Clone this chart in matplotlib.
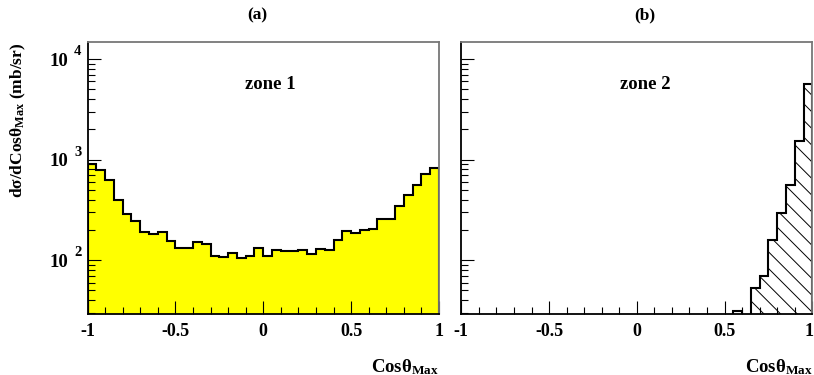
import numpy as np
import matplotlib
matplotlib.use("Agg")
import matplotlib.pyplot as plt
import matplotlib.transforms as mtransforms
from matplotlib.ticker import MultipleLocator, LogLocator, NullFormatter, FixedLocator

plt.rcParams['font.family'] = ['Liberation Serif', 'DejaVu Serif']
plt.rcParams['font.weight'] = 'bold'
plt.rcParams['mathtext.fontset'] = 'custom'
plt.rcParams['mathtext.rm'] = 'Liberation Serif:bold'
plt.rcParams['mathtext.bf'] = 'Liberation Serif:bold'
plt.rcParams['mathtext.it'] = 'Liberation Serif:bold:italic'
plt.rcParams['axes.unicode_minus'] = False
plt.rcParams['hatch.linewidth'] = 0.7

# 40 bins in cos(theta_max) from -1 to 1
bin_edges = np.linspace(-1.0, 1.0, 41)

# zone 1 cross section (mb/sr)
zone1 = [897, 783, 633, 401, 286, 244, 190, 182, 191, 156,
         132, 132, 151, 144, 110, 108, 119, 105, 110, 131,
         110, 126, 123, 123, 126, 115, 129, 127, 158, 194,
         187, 199, 203, 259, 259, 343, 442, 556, 714, 826]

# zone 2 cross section (mb/sr)
zone2 = [0] * 31 + [31, 0, 53.5, 69, 158, 295, 560, 1530, 5600]

x_ticks = [-1, -0.5, 0, 0.5, 1]
x_tick_labels = ['-1', '-0.5', '0', '0.5', '1']
y_decades = [2, 3, 4]
y_range = (29.5, 14800)
panel_titles = ['(a)', '(b)']
zone_labels = ['zone 1', 'zone 2']

W, H = 814, 375
fig = plt.figure(figsize=(W / 100, H / 100), dpi=100)

ax_l = fig.add_axes([87.5 / W, 1 - 313.5 / H, 351.5 / W, 271.5 / H])
ax_r = fig.add_axes([461.3 / W, 1 - 313.5 / H, 351.0 / W, 271.5 / H])

# filled yellow histogram with black outline
ax_l.stairs(zone1, bin_edges, baseline=1, fill=True, color='#ffff00', lw=0)
ax_l.stairs(zone1, bin_edges, baseline=1, fill=False, color='black', lw=1.5)

# hatched histogram
ax_r.stairs(zone2, bin_edges, baseline=1, fill=True, facecolor='none',
            edgecolor='black', hatch='\\\\', lw=0)
ax_r.stairs(zone2, bin_edges, baseline=1, fill=False, color='black', lw=1.5)

xlabel_text = 'Cosθ$_{\\mathbf{Max}}$'

for i, ax in enumerate([ax_l, ax_r]):
    ax.set_yscale('log')
    ax.set_xlim(-1, 1)
    ax.set_ylim(*y_range)
    ax.set_xticks(x_ticks)
    ax.set_xticklabels(x_tick_labels, fontsize=13, fontweight='bold')
    ax.xaxis.set_minor_locator(MultipleLocator(0.1))
    ax.yaxis.set_major_locator(FixedLocator([10.0 ** d for d in y_decades]))
    ax.yaxis.set_minor_locator(LogLocator(base=10, subs=np.arange(2, 10)))
    ax.yaxis.set_major_formatter(NullFormatter())
    ax.yaxis.set_minor_formatter(NullFormatter())
    ax.tick_params(which='major', direction='in', length=9.4, width=0.8,
                   top=False, right=False, pad=6.5, colors='black')
    ax.tick_params(which='minor', direction='in', length=5, width=0.8,
                   top=False, right=False)
    ax.spines['top'].set_color('#777777')
    ax.spines['right'].set_color('#777777')
    ax.spines['left'].set_color('black')
    ax.spines['bottom'].set_color('black')
    for s in ax.spines.values():
        s.set_linewidth(1.3)
    ax.set_zorder(2)
    # x axis title at right end
    ax.annotate(xlabel_text, xy=(1, 0), xycoords='axes fraction',
                xytext=(0, -42), textcoords='offset points',
                ha='right', va='baseline', fontsize=13.5, fontweight='bold')

# keep the last tick label of the right panel inside the canvas
last = ax_r.get_xticklabels()[-1]
last.set_transform(last.get_transform() +
                   mtransforms.ScaledTranslation(-3 / 100, 0, fig.dpi_scale_trans))

# decade labels on the left panel
for d in y_decades:
    ax_l.annotate('10', xy=(0, 10.0 ** d), xycoords=('axes fraction', 'data'),
                  xytext=(-14, -1.5), textcoords='offset points',
                  ha='right', va='center', fontsize=13.5, fontweight='bold')
    ax_l.annotate(str(d), xy=(0, 10.0 ** d), xycoords=('axes fraction', 'data'),
                  xytext=(-7, 5.5), textcoords='offset points',
                  ha='center', va='center', fontsize=10.5, fontweight='bold')

ax_l.text(0.519, 0.842, zone_labels[0], transform=ax_l.transAxes,
          ha='center', va='center', fontsize=13.5, fontweight='bold')
ax_r.text(0.523, 0.842, zone_labels[1], transform=ax_r.transAxes,
          ha='center', va='center', fontsize=13.5, fontweight='bold')

fig.text(257 / W, 1 - 15 / H, panel_titles[0], ha='center', va='center',
         fontsize=12.5, fontweight='bold')
fig.text(645 / W, 1 - 15 / H, panel_titles[1], ha='center', va='center',
         fontsize=12.5, fontweight='bold')

fig.text(18 / W, 1 - 43 / H, 'dσ/dCosθ$_{\\mathbf{Max}}$ (mb/sr)',
         rotation=90, rotation_mode='anchor', ha='right', va='center',
         fontsize=12.5, fontweight='bold')

fig.savefig('out.png', dpi=100)
